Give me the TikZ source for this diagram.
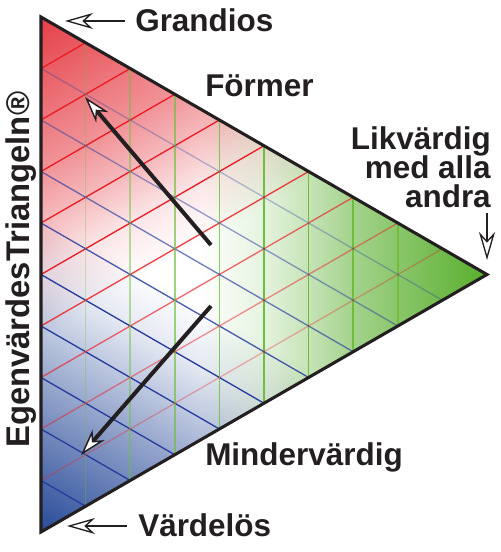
\documentclass[tikz,border=0pt]{standalone}
\usepackage{fontspec}
\setmainfont{Liberation Sans}
\usetikzlibrary{arrows.meta}
\usetikzlibrary{calc}

\definecolor{tridark}{RGB}{35,31,32}
\definecolor{trired}{RGB}{229,64,72}
\definecolor{triblue}{RGB}{40,74,152}
\definecolor{trigreen}{RGB}{88,174,44}
\definecolor{gridred}{RGB}{236,28,36}
\definecolor{gridblue}{RGB}{40,60,160}
\definecolor{gridgreen}{RGB}{110,190,60}

\pgfdeclarehorizontalshading{redramp}{100bp}{color(0bp)=(trired); color(25bp)=(trired); color(40bp)=(trired!56!white); color(45bp)=(trired!36!white); color(50bp)=(trired!13!white); color(56bp)=(white); color(100bp)=(white)}
\pgfdeclarehorizontalshading{blueramp}{100bp}{color(0bp)=(triblue); color(25bp)=(triblue); color(40bp)=(triblue!48!white); color(45bp)=(triblue!30!white); color(50bp)=(triblue!12!white); color(56bp)=(white); color(100bp)=(white)}
\pgfdeclarehorizontalshading{greenramp}{100bp}{color(0bp)=(trigreen); color(25bp)=(trigreen); color(40bp)=(trigreen!55!white); color(45bp)=(trigreen!34!white); color(50bp)=(trigreen!15!white); color(57bp)=(white); color(100bp)=(white)}

\tikzset{
  tritext/.style={font=\fontsize{23.6}{26}\selectfont\bfseries, text=tridark, inner sep=0pt},
  bigarrow/.style={draw=tridark, line width=3pt, -{Stealth[length=20pt, width=12pt, inset=6pt, line width=1.1pt, fill=white]}},
  smallarrow/.style={draw=tridark, line width=1.7pt, -{Stealth[length=21pt, width=12pt, inset=6.5pt, line width=1pt, fill=white]}},
}

\begin{document}
\begin{tikzpicture}[x=0.75pt,y=0.75pt,yscale=-1,xscale=1]
\useasboundingbox (0,0) rectangle (500,552);

%Corners of the triangle
\coordinate (A) at (41,17);
\coordinate (B) at (41,532);
\coordinate (C) at (487,274.5);

%Shape: Triangle [white base]
\fill[white] (A) -- (B) -- (C) -- cycle;
%Colour fields, one ramp from each corner
\begin{scope}
\clip (A) -- (B) -- (C) -- cycle;
\begin{scope}[blend mode=multiply]
\begin{scope}[transform canvas={rotate around={-60:(A)}}]
\shade[shading=redramp] (A) ++(0,-300) rectangle ++(447,600);
\end{scope}
\begin{scope}[transform canvas={rotate around={60:(B)}}]
\shade[shading=blueramp] (B) ++(0,-300) rectangle ++(447,600);
\end{scope}
\begin{scope}[transform canvas={rotate around={180:(C)}}]
\shade[shading=greenramp] (C) ++(0,-300) rectangle ++(447,600);
\end{scope}
\end{scope}
\end{scope}

%Straight Lines [grid, fading near the far side]
\foreach \k in {1,...,9}{
  \pgfmathsetmacro\op{min(1,1-0.17*(\k-5))}
  \draw[gridred, line width=1pt, draw opacity=\op] ($(A)!\k/10!(B)$) -- ($(A)!\k/10!(C)$);
  \draw[gridblue, line width=1pt, draw opacity=\op] ($(B)!\k/10!(A)$) -- ($(B)!\k/10!(C)$);
  \draw[gridgreen, line width=1.3pt, draw opacity=\op] ($(C)!\k/10!(A)$) -- ($(C)!\k/10!(B)$);
}

%Shape: Triangle [outline]
\draw[tridark, line width=2.3pt, line join=miter] (A) -- (B) -- (C) -- cycle;

%Straight Lines [arrows inside]
\coordinate (up tail) at (211,245);
\coordinate (up tip) at (85,97);
\coordinate (down tail) at (211,306);
\coordinate (down tip) at (81,455);
\draw[bigarrow] (up tail) -- (up tip);
\draw[bigarrow] (down tail) -- (down tip);

%Straight Lines [pointers to the corners]
\coordinate (grandios tail) at (125,21);
\coordinate (grandios tip) at (65,21);
\coordinate (vardelos tail) at (127,526);
\coordinate (vardelos tip) at (67,526);
\coordinate (andra tail) at (487,213);
\coordinate (andra tip) at (487,260);
\draw[smallarrow] (grandios tail) -- (grandios tip);
\draw[smallarrow] (vardelos tail) -- (vardelos tip);
\draw[smallarrow] (andra tail) -- (andra tip);

% Text Node
\node[tritext, anchor=base west] (grandios) at (135,32) {Grandios};
% Text Node
\node[tritext, anchor=base west] (former) at (205,97) {Förmer};
% Text Node
\node[tritext, anchor=base west] (mindre) at (205,465) {Mindervärdig};
% Text Node
\node[tritext, anchor=base west] (vardelos) at (138,536) {Värdelös};
% Text Node
\node[tritext, anchor=base east] (likvardig) at (491,150) {Likvärdig};
\node[tritext, anchor=base east] (medalla) at (491,179) {med alla};
\node[tritext, anchor=base east] (andra) at (491,207) {andra};
% Text Node
\node[tritext, anchor=base west, rotate=90, font=\fontsize{24.6}{27}\selectfont\bfseries] (title) at (29,448) {EgenvärdesTriangeln®};

\end{tikzpicture}
\end{document}
